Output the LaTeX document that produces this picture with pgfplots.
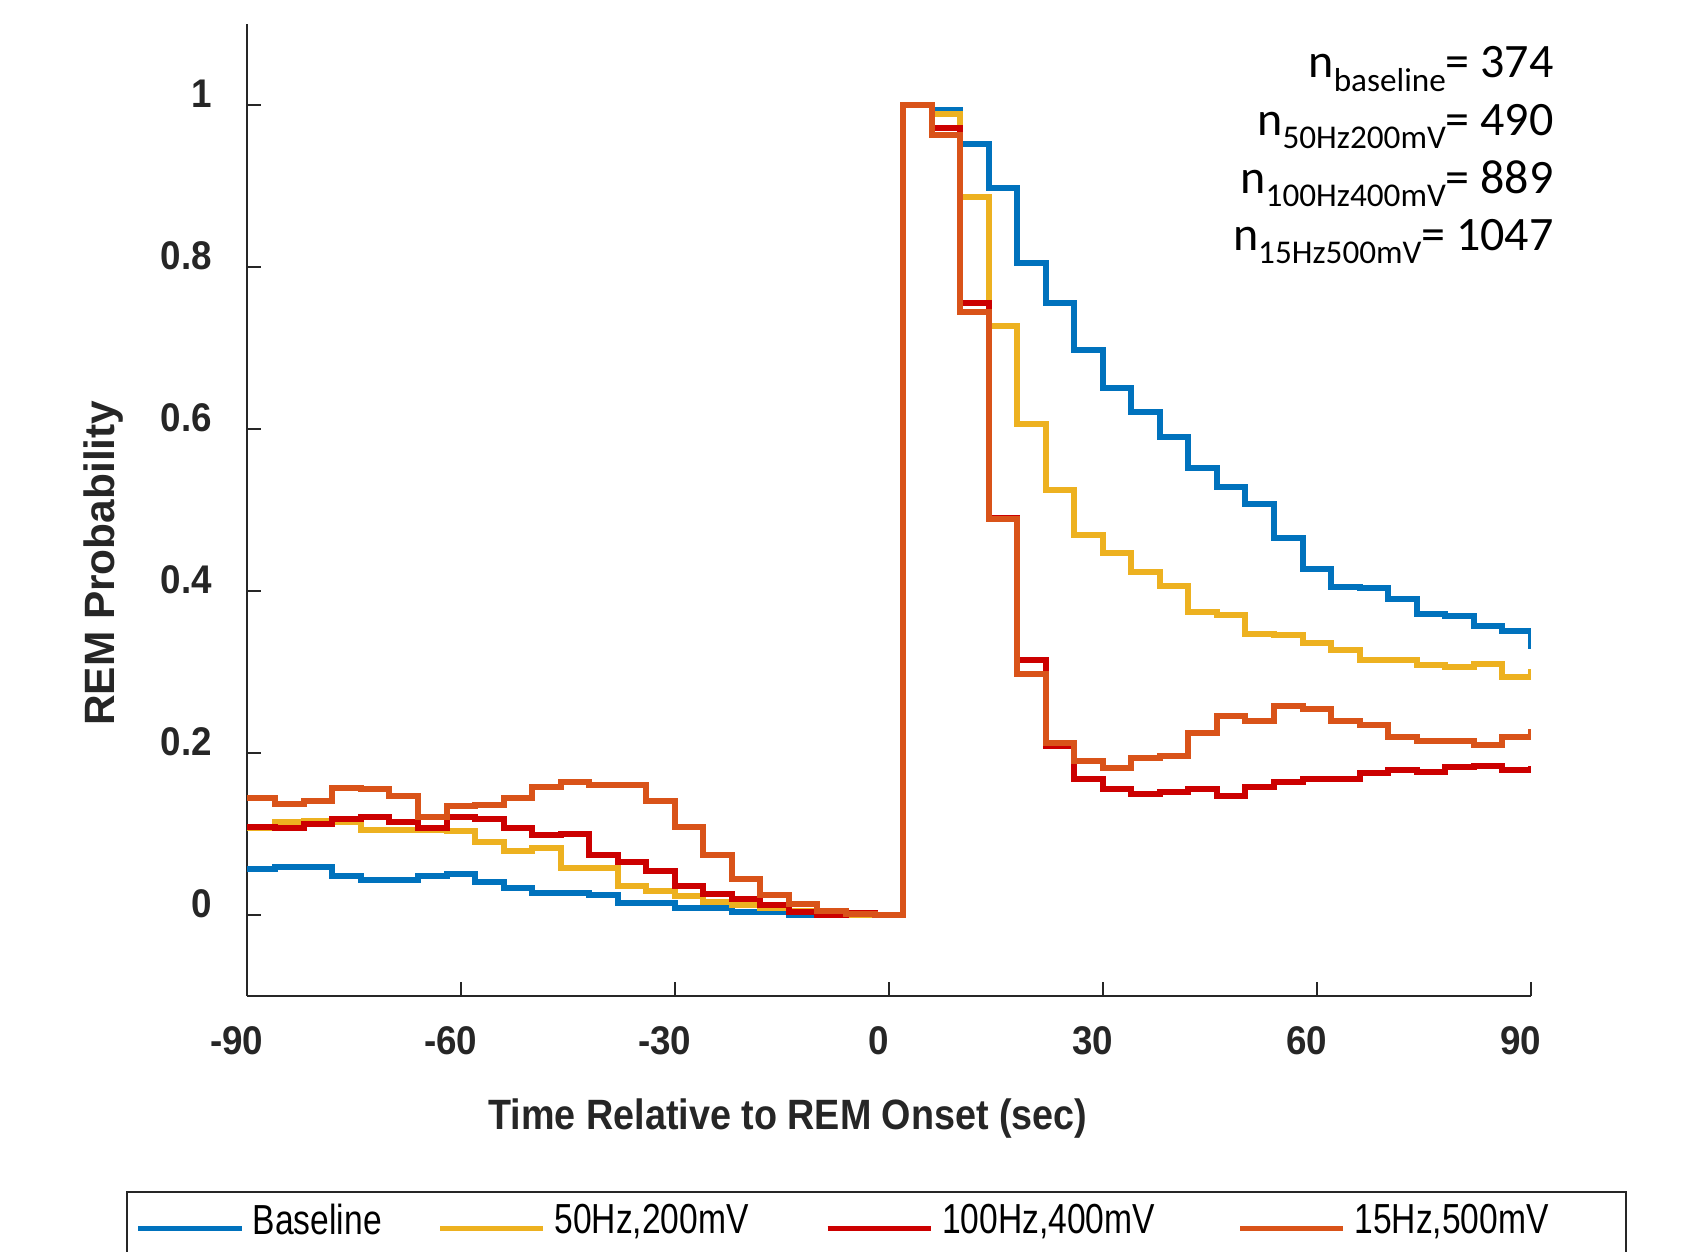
\documentclass[border=0pt]{standalone}
\usepackage{pgfplots}
\usepackage{pgfplotstable}
\pgfplotsset{compat=1.18}
\usepackage{fontspec}
\setmainfont{Liberation Sans}
\newfontfamily\tickfont[FakeStretch=0.92]{Liberation Sans}
\newfontfamily\labfont[FakeStretch=0.89]{Liberation Sans}
\newfontfamily\legfont[FakeStretch=0.8]{Liberation Sans}
\newfontfamily\annfont{Carlito}
\definecolor{cblue}{RGB}{0,114,189}
\definecolor{cyel}{RGB}{237,177,32}
\definecolor{cred}{RGB}{204,0,0}
\definecolor{corg}{RGB}{217,83,25}
\definecolor{axgray}{RGB}{38,38,38}

\pgfplotstableread{
x   b      y      r      o
-90 0.056  0.107  0.108  0.144
-86 0.059  0.115  0.107  0.137
-82 0.059  0.116  0.112  0.140
-78 0.048  0.114  0.118  0.156
-74 0.043  0.105  0.120  0.155
-70 0.043  0.105  0.115  0.146
-66 0.048  0.105  0.107  0.121
-62 0.050  0.103  0.120  0.134
-58 0.040  0.090  0.118  0.135
-54 0.033  0.078  0.107  0.144
-50 0.027  0.082  0.098  0.158
-46 0.027  0.057  0.100  0.164
-42 0.024  0.057  0.074  0.160
-38 0.014  0.035  0.065  0.160
-34 0.014  0.029  0.054  0.140
-30 0.008  0.023  0.035  0.108
-26 0.008  0.016  0.025  0.074
-22 0.003  0.012  0.019  0.044
-18 0.003  0.008  0.012  0.024
-14 0.000  0.005  0.003  0.013
-10 0.000  0.000  0.000  0.004
-6  0.000  0.000  0.002  0.001
-2  0.000  0.000  0.000  0.000
2   1.000  1.000  1.000  1.000
6   0.994  0.989  0.971  0.9635
10  0.952  0.886  0.756  0.744
14  0.897  0.727  0.490  0.489
18  0.805  0.606  0.315  0.297
22  0.755  0.525  0.208  0.212
26  0.697  0.469  0.168  0.190
30  0.651  0.447  0.155  0.181
34  0.621  0.423  0.149  0.193
38  0.590  0.406  0.152  0.196
42  0.552  0.374  0.155  0.224
46  0.528  0.370  0.146  0.245
50  0.507  0.347  0.158  0.239
54  0.465  0.345  0.164  0.258
58  0.427  0.335  0.167  0.254
62  0.405  0.327  0.168  0.239
66  0.403  0.314  0.175  0.234
70  0.390  0.314  0.179  0.219
74  0.371  0.308  0.176  0.214
78  0.369  0.306  0.182  0.214
82  0.357  0.310  0.184  0.209
86  0.350  0.294  0.179  0.219
90  0.328  0.303  0.183  0.229
}\rem

\begin{document}
\begin{tikzpicture}
\begin{axis}[
  name=ax, at={(0,0)}, anchor=south west,
  scale only axis, width=321pt, height=242.9pt,
  xmin=-90, xmax=90, ymin=-0.1, ymax=1.1,
  axis x line*=bottom, axis y line*=left,
  axis line style={axgray, line width=0.5pt},
  xtick={-90,-60,-30,0,30,60,90},
  xticklabels={-90,-60,-30,0,30,60,90},
  ytick={0,0.2,0.4,0.6,0.8,1},
  yticklabels={0\hspace{-1.9pt},0.2,0.4,0.6,0.8,1\hspace{-1.9pt}},
  tick align=inside, major tick length=3.5pt,
  tick style={axgray, line width=0.5pt},
  ticklabel style={font=\tickfont\bfseries\fontsize{10}{12}\selectfont, text=axgray},
  xticklabel style={yshift=-4.3pt, xshift=-2.5pt},
  yticklabel style={xshift=-5.2pt, yshift=2.7pt},
  xlabel={Time Relative to REM Onset (sec)},
  ylabel={REM Probability},
  xlabel style={font=\labfont\bfseries\fontsize{10.6}{12}\selectfont, text=axgray, at={(axis description cs:0.4215,-0.1264)}, anchor=center},
  ylabel style={font=\bfseries\fontsize{10.6}{12}\selectfont, text=axgray, at={(axis description cs:-0.1118,0.445)}, anchor=center},
  legend columns=4,
  legend style={at={(axis description cs:-0.0872,-0.2137)}, anchor=north west, draw=none, fill=none, inner sep=0pt, column sep=0pt, font=\legfont\fontsize{10.5}{12}\selectfont, nodes={inner sep=0pt}},
  legend image code/.code={\draw[line width=1.4pt] (0pt,-1.6pt) -- (25.8pt,-1.6pt);},
  every axis plot/.append style={const plot, line width=1.5pt, mark=none},
]
\addplot[cblue] table[x=x, y=b] {\rem};
\addlegendentry{\makebox[48.2pt][l]{\hspace{2.1pt}Baseline}}
\addplot[cyel] table[x=x, y=y] {\rem};
\addlegendentry{\makebox[69.7pt][l]{\hspace{2.1pt}50Hz,200mV}}
\addplot[cred] table[x=x, y=r] {\rem};
\addlegendentry{\makebox[75.9pt][l]{\hspace{2.1pt}100Hz,400mV}}
\addplot[corg] table[x=x, y=o] {\rem};
\addlegendentry{\makebox[70.45pt][l]{\hspace{2.1pt}15Hz,500mV}}
\end{axis}
\draw[axgray, line width=0.5pt] (-29.9pt,-80pt) -- (-29.9pt,-49.1pt) -- (344.8pt,-49.1pt) -- (344.8pt,-80pt);
\begin{scope}[every node/.style={anchor=base east, inner sep=0pt, font=\annfont\fontsize{12}{14}\selectfont}]
\node at (326.9pt,229.4pt) {n{\fontsize{8.3}{8}\selectfont\raisebox{-3.3pt}{baseline}}= 374};
\node at (326.9pt,215.0pt) {n{\fontsize{8.3}{8}\selectfont\raisebox{-3.3pt}{50Hz200mV}}= 490};
\node at (326.9pt,200.6pt) {n{\fontsize{8.3}{8}\selectfont\raisebox{-3.3pt}{100Hz400mV}}= 889};
\node at (326.9pt,186.2pt) {n{\fontsize{8.3}{8}\selectfont\raisebox{-3.3pt}{15Hz500mV}}= 1047};
\end{scope}
\pgfresetboundingbox
\useasboundingbox (-61.7pt,-64.1pt) rectangle (364.3pt,248.9pt);
\end{tikzpicture}
\end{document}
